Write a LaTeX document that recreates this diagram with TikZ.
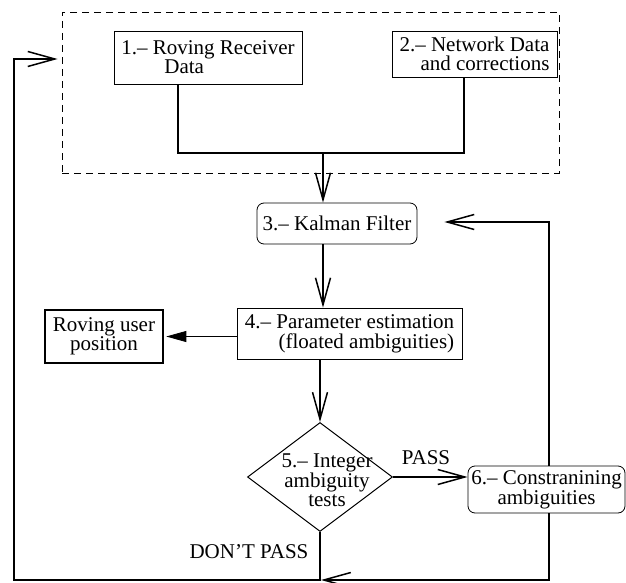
\documentclass[tikz,border=0pt]{standalone}
\usepackage{fontspec}
\setmainfont{Liberation Serif}
\usetikzlibrary{arrows.meta,shapes.geometric}
\begin{document}
\begin{tikzpicture}[x=1pt, y=-1pt,
  box/.style={draw, line width=0.8pt, inner sep=0pt},
  roundbox/.style={box, rounded corners=7pt, align=center},
  conn/.style={line width=1.5pt, -{Straight Barb[length=27pt,width=15pt]}},
  wire/.style={line width=1.5pt},
  lbl/.style={inner sep=0pt, font=\fontsize{21}{19}\selectfont}]
\useasboundingbox (0,0) rectangle (626,583);
% input group
\node[draw, dash pattern=on 7pt off 5pt, line width=0.8pt, minimum width=497pt, minimum height=161pt] (input) at (310.5,92.5) {};
\node[box, align=left, minimum width=188pt, minimum height=53pt, font=\fontsize{21}{18}\selectfont] (recv) at (208,57.5) {1.– Roving Receiver\\\hspace*{43pt}Data};
\node[box, align=right, minimum width=165pt, minimum height=46pt, font=\fontsize{21}{19}\selectfont] (net) at (474.5,54) {2.– Network Data\\and corrections};
% processing chain
\node[roundbox, minimum width=160pt, minimum height=41pt, font=\fontsize{21}{19}\selectfont] (kalman) at (337,223.5) {3.– Kalman Filter};
\node[box, align=right, minimum width=225pt, minimum height=51pt, font=\fontsize{21}{20}\selectfont] (param) at (349.5,333.5) {4.– Parameter estimation\\(floated ambiguities)};
\node[box, align=center, line width=2.6pt, minimum width=118pt, minimum height=53pt, font=\fontsize{21}{19}\selectfont] (user) at (104,336.5) {Roving user\\position};
\node[draw, diamond, line width=1pt, minimum width=145pt, minimum height=109pt, inner sep=0pt] (test) at (320,477) {};
\node[lbl, align=center] (testtxt) at (327,480) {5.– Integer\\ambiguity\\tests};
\node[roundbox, minimum width=157pt, minimum height=47pt, font=\fontsize{21}{19}\selectfont] (constr) at (546.5,489.5) {6.– Constranining\\ambiguities};
\node[lbl] (pass) at (426,458) {PASS};
\node[lbl] (fail) at (249,552) {DON’T PASS};
% helper points
\coordinate (join) at (323,153);
\coordinate (fbtop) at (549,222);
\coordinate (fbbot) at (549,580);
\coordinate (lbot) at (14,580);
\coordinate (ltop) at (14,59);
% connectors
\draw[wire] ([xshift=-30pt]recv.south) |- (join) -| ([xshift=-10.5pt]net.south);
\draw[conn] (join) -- (join |- kalman.north);
\draw[conn] (join |- kalman.south) -- (join |- param.north);
\draw[line width=0.8pt, -{Triangle[length=20pt,width=11pt]}] (param.west |- user.east) -- ([xshift=2pt]user.east);
\draw[conn] (test.north |- param.south) -- (test.north);
\draw[conn] (test.east) -- (test.east -| constr.west);
\draw[conn, shorten >=27pt] (fbtop |- constr.north) -- (fbtop) -- (fbtop -| kalman.east);
\draw[conn] (fbbot |- constr.south) -- (fbbot) -- ([xshift=1pt]test.south |- fbbot);
\draw[conn, shorten >=4pt] (test.south) -- (test.south |- lbot) -- (lbot) -- (ltop) -- (ltop -| input.west);
\end{tikzpicture}
\end{document}
